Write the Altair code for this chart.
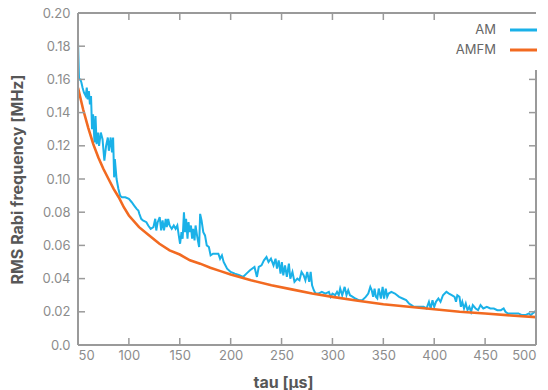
import altair as alt
import pandas as pd

am_tau = [50.0, 51.0, 52.4, 53.4, 54.5, 55.9, 57.6, 58.6, 59.7, 60.7, 61.7, 62.8, 63.8, 64.8, 66.2, 67.2,
          68.3, 69.7, 70.7, 72.4, 74.1, 75.9, 77.6, 79.3, 80.3, 82.1, 83.4, 84.5, 85.5, 86.2, 87.9, 89.7,
          91.4, 93.1, 96.5, 100.0, 102.8, 105.2, 107.6, 109.3, 110.3, 112.1, 113.8, 117.2, 119.0, 121.4,
          124.1, 125.9, 126.9, 128.3, 130.3, 131.7, 133.1, 134.5, 136.2, 137.2, 138.6, 140.0, 142.1, 144.1,
          145.9, 147.6, 149.0, 150.3, 151.7, 152.8, 154.1, 155.2, 156.2, 157.6, 158.6, 159.6, 161.0, 162.1,
          163.1, 164.5, 165.5, 167.2, 169.0, 170.0, 171.4, 173.1, 174.8, 176.5, 178.6, 180.3, 182.7, 185.5,
          187.9, 189.6, 191.4, 193.1, 194.8, 196.5, 200.0, 204.1, 208.6, 212.1, 215.5, 219.0, 223.4, 225.8,
          227.6, 230.3, 232.7, 235.2, 237.2, 239.6, 242.1, 244.1, 245.5, 247.2, 249.0, 250.3, 251.7, 253.4,
          255.2, 257.2, 258.6, 260.7, 262.7, 265.5, 267.6, 269.6, 271.7, 273.4, 275.2, 277.2, 278.6, 280.0,
          281.7, 283.4, 286.2, 289.6, 293.1, 296.5, 298.3, 300.0, 302.7, 304.5, 306.2, 307.6, 309.6, 312.0,
          313.8, 315.5, 317.2, 320.0, 322.4, 325.8, 329.3, 332.7, 335.2, 337.2, 338.6, 340.0, 341.4, 342.7,
          344.1, 345.5, 347.6, 349.3, 350.7, 352.4, 353.8, 355.2, 357.9, 361.4, 365.5, 368.9, 372.4, 375.2,
          377.6, 380.0, 382.7, 386.2, 389.6, 392.4, 394.8, 396.5, 398.3, 400.0, 401.7, 404.1, 406.2, 408.6,
          410.3, 412.0, 414.5, 417.2, 420.0, 421.4, 422.7, 424.8, 426.2, 427.6, 429.3, 431.0, 432.7, 434.5,
          436.2, 437.9, 440.7, 443.1, 445.5, 448.2, 451.7, 455.1, 458.6, 462.0, 465.5, 468.2, 470.0, 472.4,
          475.8, 479.3, 482.7, 486.2, 489.6, 493.1, 494.8, 496.6, 499.0, 500.0]
am_val = [0.183, 0.160, 0.160, 0.158, 0.155, 0.152, 0.150, 0.155, 0.148, 0.153, 0.145, 0.150, 0.130, 0.139, 0.122, 0.138,
          0.121, 0.128, 0.120, 0.128, 0.124, 0.111, 0.120, 0.125, 0.117, 0.125, 0.116, 0.125, 0.101, 0.112, 0.100, 0.094,
          0.090, 0.089, 0.089, 0.088, 0.086, 0.084, 0.082, 0.081, 0.079, 0.076, 0.075, 0.074, 0.072, 0.070,
          0.071, 0.076, 0.069, 0.074, 0.077, 0.069, 0.075, 0.069, 0.076, 0.071, 0.076, 0.072, 0.070, 0.072,
          0.070, 0.072, 0.066, 0.061, 0.068, 0.064, 0.080, 0.068, 0.076, 0.064, 0.074, 0.068, 0.072, 0.064,
          0.070, 0.063, 0.072, 0.065, 0.059, 0.079, 0.075, 0.068, 0.066, 0.060, 0.059, 0.054, 0.055, 0.055,
          0.055, 0.052, 0.054, 0.050, 0.048, 0.046, 0.044, 0.043, 0.042, 0.041, 0.043, 0.045, 0.047, 0.041,
          0.047, 0.048, 0.051, 0.053, 0.050, 0.052, 0.048, 0.052, 0.046, 0.051, 0.043, 0.050, 0.042, 0.048,
          0.041, 0.049, 0.040, 0.044, 0.038, 0.040, 0.039, 0.044, 0.042, 0.039, 0.044, 0.038, 0.044, 0.036,
          0.033, 0.031, 0.031, 0.032, 0.031, 0.032, 0.029, 0.031, 0.030, 0.032, 0.030, 0.034, 0.030, 0.035,
          0.030, 0.033, 0.030, 0.029, 0.028, 0.027, 0.027, 0.029, 0.031, 0.035, 0.033, 0.029, 0.034, 0.029,
          0.028, 0.034, 0.028, 0.035, 0.028, 0.034, 0.029, 0.031, 0.032, 0.031, 0.029, 0.028, 0.027, 0.025,
          0.024, 0.023, 0.023, 0.023, 0.023, 0.022, 0.026, 0.022, 0.027, 0.023, 0.026, 0.028, 0.026, 0.030,
          0.031, 0.032, 0.031, 0.030, 0.029, 0.026, 0.030, 0.029, 0.023, 0.026, 0.022, 0.025, 0.021, 0.023,
          0.020, 0.024, 0.022, 0.021, 0.024, 0.022, 0.023, 0.022, 0.022, 0.021, 0.021, 0.022, 0.020, 0.019,
          0.019, 0.019, 0.019, 0.018, 0.018, 0.019, 0.018, 0.019, 0.020, 0.021]

amfm_tau = [50, 55, 60, 65, 70, 75, 80, 85, 90, 95, 100, 110, 120, 130, 140, 150, 160, 170, 180, 190,
            200, 220, 240, 260, 280, 300, 325, 350, 375, 400, 425, 450, 475, 500]
amfm_val = [0.155, 0.142, 0.131, 0.121, 0.113, 0.106, 0.100, 0.094, 0.089, 0.083, 0.078, 0.071, 0.066,
            0.061, 0.057, 0.0545, 0.051, 0.049, 0.0465, 0.0445, 0.0425, 0.039, 0.036, 0.0335, 0.031, 0.029,
            0.0267, 0.0245, 0.023, 0.0215, 0.020, 0.019, 0.0178, 0.0168]

x_ticks = [50, 100, 150, 200, 250, 300, 350, 400, 450, 500]
y_ticks = [0.0, 0.02, 0.04, 0.06, 0.08, 0.10, 0.12, 0.14, 0.16, 0.18, 0.20]
series = ["AM", "AMFM"]
colors = ["#1ab1e8", "#f26a21"]
widths = [2.0, 2.6]

W, H = 458, 332
GRID = "#9a9a9a"
FONT = "Inter"

df = pd.concat([
    pd.DataFrame({"tau": am_tau, "val": am_val, "series": "AM"}),
    pd.DataFrame({"tau": amfm_tau, "val": amfm_val, "series": "AMFM"}),
], ignore_index=True)

xs = alt.Scale(domain=[50, 500], nice=False, zero=False)
ys = alt.Scale(domain=[0, 0.2], nice=False)
cs = alt.Scale(domain=series, range=colors)

axis_common = dict(domain=False, ticks=False, grid=False,
                   labelColor="#8c8c8c", labelFont=FONT, labelFontSize=13,
                   titleColor="#575757", titleFont=FONT, titleFontSize=16, titleFontWeight="bold")
xa = alt.Axis(values=x_ticks, format="d", title="tau [µs]", labelPadding=4,
              titleX=205, titleY=37, titleAlign="center", titleBaseline="middle", **axis_common)
ya = alt.Axis(values=y_ticks, title="RMS Rabi frequency [MHz]", labelPadding=8,
              labelExpr="datum.value == 0 ? '0.0' : format(datum.value, '.2f')",
              titleX=-61, titleY=H / 2, titleAlign="center", titleBaseline="middle", **axis_common)

lines = alt.Chart(df).mark_line(clip=True).encode(
    x=alt.X("tau:Q", scale=xs, axis=xa),
    y=alt.Y("val:Q", scale=ys, axis=ya),
    color=alt.Color("series:N", scale=cs, legend=None),
    strokeWidth=alt.StrokeWidth("series:N", scale=alt.Scale(domain=series, range=widths), legend=None),
    order=alt.Order("tau:Q"),
)

yt = pd.DataFrame({"v": y_ticks})
xt = pd.DataFrame({"t": x_ticks})
one = alt.Data(values=[{"a": 1}])
leg = pd.DataFrame({"series": series})

tick_style = dict(color=GRID, strokeWidth=1.5)
left_ticks = alt.Chart(yt).mark_rule(**tick_style).encode(
    y=alt.Y("v:Q", scale=ys, axis=ya), x=alt.value(0), x2=alt.value(7))
right_ticks = alt.Chart(yt).transform_filter("datum.v <= 0.161").mark_rule(**tick_style).encode(
    y=alt.Y("v:Q", scale=ys, axis=ya), x=alt.value(W - 7), x2=alt.value(W))
bottom_ticks = alt.Chart(xt).mark_rule(**tick_style).encode(
    x=alt.X("t:Q", scale=xs, axis=xa), y=alt.value(H), y2=alt.value(H - 7))
top_ticks = alt.Chart(xt).transform_filter("datum.t <= 400").mark_rule(**tick_style).encode(
    x=alt.X("t:Q", scale=xs, axis=xa), y=alt.value(0), y2=alt.value(7))

border_style = dict(color=GRID, strokeWidth=2)
b_left = alt.Chart(one).mark_rule(**border_style).encode(x=alt.value(0), y=alt.value(0), y2=alt.value(H))
b_bottom = alt.Chart(one).mark_rule(**border_style).encode(x=alt.value(0), x2=alt.value(W), y=alt.value(H))
b_top = alt.Chart(one).mark_rule(**border_style).encode(x=alt.value(0), x2=alt.value(W), y=alt.value(0))
b_right = alt.Chart(one).mark_rule(**border_style).encode(x=alt.value(W), y=alt.value(57), y2=alt.value(H))

legend_layers = []
for i, s in enumerate(series):
    ypos = 17 + 20 * i
    base = alt.Chart(leg).transform_filter(alt.datum.series == s)
    legend_layers.append(base.mark_text(
        align="right", baseline="middle", font=FONT, fontSize=13, color="#666666"
    ).encode(text="series:N", x=alt.value(418), y=alt.value(ypos)))
    legend_layers.append(base.mark_rule(strokeWidth=3).encode(
        color=alt.Color("series:N", scale=cs, legend=None),
        x=alt.value(432), x2=alt.value(W + 1), y=alt.value(ypos)))

chart = alt.layer(
    lines, b_left, b_bottom, b_top, b_right, left_ticks, right_ticks, bottom_ticks, top_ticks,
    *legend_layers
).properties(
    width=W, height=H,
    background="white",
    autosize=alt.AutoSizeParams(type="none"),
    padding={"left": 78, "top": 13, "right": 12, "bottom": 45},
).configure_view(stroke=None)

chart.save("out.html", embed_options={"renderer": "svg", "actions": False})
